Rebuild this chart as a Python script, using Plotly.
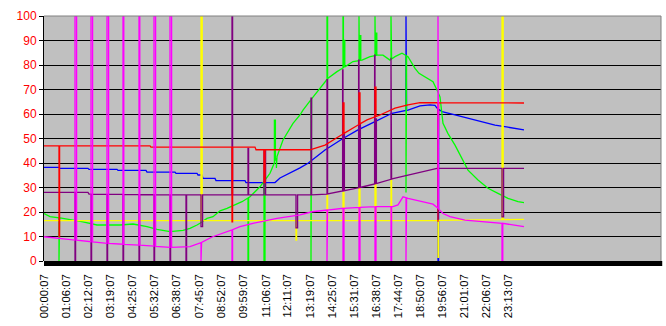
import plotly.graph_objects as go
import numpy as np

# ---------------- data (hours since midnight, values) ----------------
tick_labels = ["00:00:07", "01:06:07", "02:12:07", "03:19:07", "04:25:07", "05:32:07",
               "06:38:07", "07:45:07", "08:52:07", "09:59:07", "11:06:07", "12:11:07",
               "13:19:07", "14:25:07", "15:31:07", "16:38:07", "17:44:07", "18:50:07",
               "19:56:07", "21:01:07", "22:06:07", "23:13:07"]

blue_t = [0, 0.75, 0.8, 2.2, 2.25, 3.65, 3.7, 5.1, 5.15, 6.55, 6.6, 7.65, 7.7, 7.9, 7.95, 8.55,
          8.6, 10.05, 10.1, 11.55, 11.8, 12.3, 12.8, 13.2, 14.05, 14.95, 15.7, 16.55, 17.4, 18.2,
          18.8, 19.3, 19.55, 19.65, 19.9, 20.55, 21.2, 21.9, 22.55, 23.2, 24]
blue_v = [38.2, 38.2, 37.8, 37.8, 37.4, 37.4, 37.0, 37.0, 36.3, 36.3, 35.8, 35.8, 35.1, 35.1, 33.7, 33.7,
          32.8, 32.8, 32.0, 32.0, 33.9, 35.9, 38.0, 39.9, 45.3, 50.0, 53.5, 56.9, 60.3, 61.6,
          63.3, 63.7, 63.5, 62.4, 61.0, 59.6, 58.2, 56.9, 55.5, 54.6, 53.5]
blue_spikes = [(18.1, 100, 0.03), (19.7, 0, 0.03)]

green_t = [0, 0.3, 0.8, 1.45, 1.95, 2.65, 3.8, 4.45, 5.15, 5.65, 6.3, 6.95, 7.3, 7.65, 7.8, 8.15,
           8.45, 8.8, 9.15, 9.9, 10.3, 10.8, 11.3, 11.65, 11.95, 12.45, 12.8, 12.95, 13.4, 13.8,
           14.2, 14.65, 15.05, 15.45, 15.9, 16.3, 16.65, 16.95, 17.3, 17.55, 17.9, 18.2, 18.55,
           18.75, 19.05, 19.45, 19.65, 19.8, 19.95, 20.2, 20.55, 20.9, 21.2, 21.7, 22.2, 22.7,
           23.2, 23.7, 24]
green_v = [19.4, 18.1, 17.6, 16.8, 16.0, 14.7, 14.7, 15.1, 14.0, 12.9, 12.0, 12.5, 13.3, 14.7, 15.4, 17.4,
           18.1, 20.5, 21.5, 24.2, 26.2, 30.3, 35.8, 42.6, 49.4, 56.2, 59.6, 61.6, 66.4, 70.5,
           74.6, 77.3, 79.3, 81.4, 82.0, 83.4, 84.0, 84.0, 82.0, 83.4, 84.8, 83.4, 78.6,
           76.6, 75.2, 73.2, 69.8, 67.0, 56.2, 52.0, 47.3, 41.9, 37.1, 33.1, 29.7, 27.6,
           25.6, 24.2, 23.8]
green_spikes = [(0.75, 0, 0.03), (10.2, 0, 0.03), (11.0, 0, 0.05), (11.52, 57.5, 0.05),
                (11.62, 38, 0.03), (13.35, 0, 0.03), (14.15, 100, 0.03),
                (14.95, 100, 0.02), (14.99, 90, 0.05), (15.75, 100, 0.02), (15.79, 92, 0.05),
                (16.55, 100, 0.02), (16.59, 93, 0.05), (17.35, 100, 0.03), (18.1, 28, 0.03)]

yellow_t = [0, 19, 24]
yellow_v = [16.5, 16.5, 17.0]
yellow_spikes = [(7.85, 100, 0.06), (12.6, 8.5, 0.03), (14.15, 27, 0.03), (14.95, 28, 0.05),
                 (15.75, 30, 0.05), (16.55, 32, 0.05), (17.35, 33, 0.03), (19.7, 1.5, 0.03),
                 (22.9, 100, 0.06)]

purple_t = [0, 2.2, 2.25, 6, 14.0, 14.45, 15.15, 15.8, 16.65, 17.45, 18.3, 18.8, 19.2, 19.65, 24]
purple_v = [28.0, 28.0, 27.3, 27.0, 27.0, 27.9, 28.9, 30.0, 31.7, 33.6, 35.2, 36.0, 37.0, 37.8, 37.8]
purple_spikes = [(1.55, 0, 0.03), (2.35, 0, 0.03), (3.15, 0, 0.03), (3.95, 0, 0.03), (4.75, 0, 0.03),
                 (5.5, 0, 0.03), (6.3, 0, 0.03), (7.1, 0, 0.03), (7.85, 14, 0.08), (9.4, 100, 0.03),
                 (10.2, 46, 0.03), (11.0, 45, 0.08), (12.6, 13.5, 0.08), (13.35, 66.5, 0.03),
                 (14.15, 74, 0.03), (14.93, 78, 0.02), (14.96, 52, 0.06), (15.73, 82, 0.02),
                 (15.76, 56, 0.06), (16.53, 84, 0.02), (16.56, 58, 0.06), (17.35, 83, 0.03),
                 (22.9, 18, 0.08)]

red_t = [0, 5.3, 5.35, 10.55, 10.6, 13.3, 14.05, 14.7, 15.45, 16.15, 16.8, 17.55, 18.2, 18.8, 24]
red_v = [47.0, 47.0, 46.5, 46.5, 45.4, 45.4, 47.3, 50.6, 54.3, 57.6, 59.6, 62.4, 63.7, 64.6, 64.5]
red_spikes = [(0.75, 10, 0.03), (9.4, 16, 0.03), (11.0, 32, 0.05), (14.95, 64.5, 0.05),
              (15.75, 68.6, 0.05), (16.55, 71, 0.05), (19.7, 16, 0.03)]

magenta_t = [0, 0.8, 1.15, 2.3, 3.15, 4.7, 5.45, 6.15, 6.8, 7.3, 7.85, 8.4, 9.2, 9.8, 10.45, 11.15,
             11.65, 12.8, 13.4, 14.15, 14.95, 15.8, 16.65, 17.45, 17.7, 17.95, 18.2, 18.8, 19.45,
             19.7, 19.95, 20.3, 21.05, 21.9, 22.9, 23.55, 24]
magenta_v = [9.9, 9.3, 8.9, 7.9, 7.2, 6.5, 6.1, 5.6, 5.6, 5.9, 7.5, 9.8, 12.0, 14.0, 15.4, 16.7,
             17.4, 18.8, 20.1, 20.8, 21.5, 21.9, 22.2, 22.2, 22.9, 26.2, 25.6, 24.5, 23.2,
             21.5, 19.4, 18.1, 16.7, 16.1, 15.4, 14.7, 14.0]
magenta_spikes = [(1.55, 100, 0.08), (2.35, 100, 0.08), (3.15, 100, 0.08), (3.95, 100, 0.04),
                  (4.75, 100, 0.04), (5.5, 100, 0.08), (6.3, 100, 0.08), (7.85, 0, 0.03),
                  (9.4, 0, 0.03), (14.15, 0, 0.03), (14.95, 0, 0.05), (15.75, 0, 0.05),
                  (16.55, 0, 0.05), (17.35, 0, 0.03), (18.1, 0, 0.03), (19.7, 100, 0.03),
                  (22.9, 0, 0.04)]


def build(ts, vs, spikes):
    blocks = [(t, [(t, v)]) for t, v in zip(ts, vs)]
    for t, peak, w in spikes:
        b0 = float(np.interp(t, ts, vs))
        b1 = float(np.interp(t + w, ts, vs))
        blocks.append((t, [(t, b0), (t, peak), (t + w, peak), (t + w, b1)]))
    blocks.sort(key=lambda b: b[0])
    xs, ys = [], []
    for _, pts in blocks:
        for x, y in pts:
            xs.append(x)
            ys.append(y)
    return xs, ys


def hours(lbl):
    h, m, s = (int(p) for p in lbl.split(":"))
    return h + m / 60 + s / 3600


series = [
    ("blue", blue_t, blue_v, blue_spikes, "#0000FF"),
    ("green", green_t, green_v, green_spikes, "#00FF00"),
    ("yellow", yellow_t, yellow_v, yellow_spikes, "#FFFF00"),
    ("purple", purple_t, purple_v, purple_spikes, "#800080"),
    ("red", red_t, red_v, red_spikes, "#FF0000"),
    ("magenta", magenta_t, magenta_v, magenta_spikes, "#FF00FF"),
]

fig = go.Figure()
for name, ts, vs, sp, col in series:
    x, y = build(ts, vs, sp)
    fig.add_trace(go.Scatter(x=x, y=y, mode="lines", name=name,
                             line=dict(color=col, width=1.3), hoverinfo="skip"))

font = "Liberation Sans, Arial, sans-serif"
fig.update_layout(
    width=666, height=326, autosize=False,
    margin=dict(l=44, r=5, t=16, b=65),
    paper_bgcolor="white", plot_bgcolor="#C0C0C0",
    showlegend=False,
    xaxis=dict(range=[0, 30.85], tickmode="array",
               tickvals=[hours(l) for l in tick_labels], ticktext=tick_labels,
               tickangle=-90, tickfont=dict(family=font, size=11.3, color="black"),
               showgrid=False, zeroline=False, showline=False, ticks="",
               ticklabelstandoff=10),
    yaxis=dict(range=[0, 100], tickmode="linear", tick0=0, dtick=10,
               tickfont=dict(family=font, size=12, color="#FF0000"),
               showgrid=True, gridcolor="black", gridwidth=1, zeroline=False,
               showline=True, linecolor="black", linewidth=1,
               ticks="outside", ticklen=4, tickcolor="black", tickwidth=1),
    shapes=[
        dict(type="line", xref="paper", yref="paper", x0=0, x1=1, y0=1, y1=1,
             line=dict(color="#808080", width=1), layer="above"),
        dict(type="line", xref="paper", yref="paper", x0=1, x1=1, y0=0, y1=1,
             line=dict(color="#808080", width=1), layer="above"),
        dict(type="rect", xref="paper", yref="paper", x0=0, x1=1.002, y0=-5 / 245, y1=0,
             fillcolor="black", line=dict(width=0), layer="above"),
    ],
)

fig.write_html("out.html")
